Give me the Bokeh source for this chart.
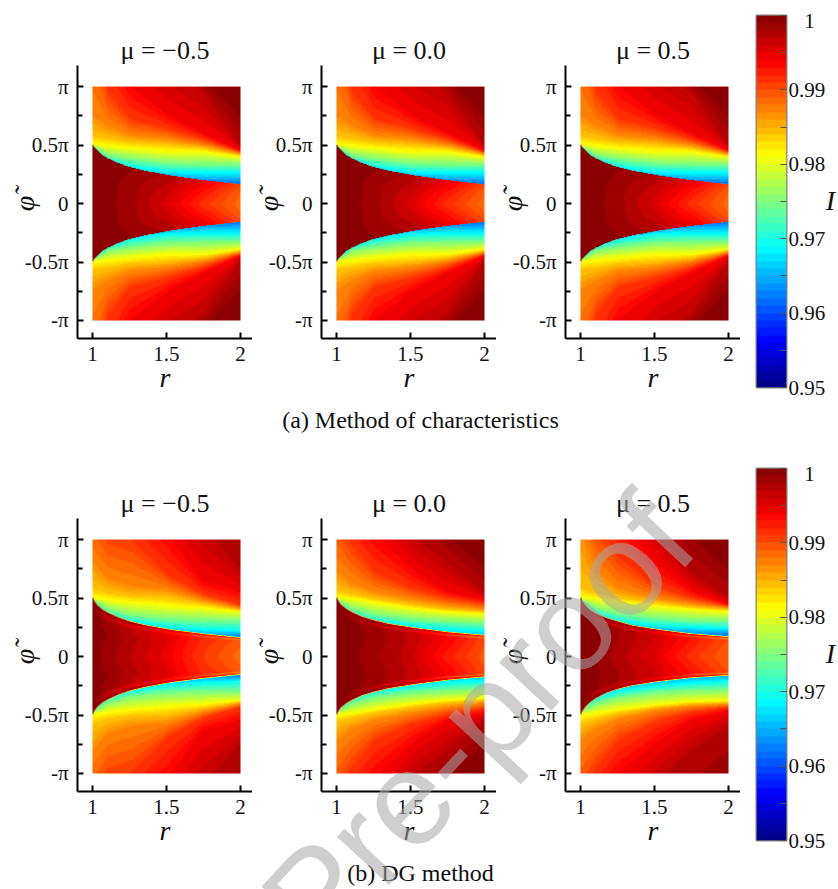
import numpy as np
from bokeh.embed import file_html
from bokeh.resources import INLINE
from bokeh.core.properties import value
from bokeh.layouts import column, row
from bokeh.models import (FixedTicker, LinearAxis,
                          LinearColorMapper, Range1d, Spacer, Title)
from bokeh.plotting import figure

# ---------- values (phi given in units of pi) ----------
TITLES = ["μ = −0.5", "μ = 0.0", "μ = 0.5"]
CAPTIONS = ["(a) Method of characteristics", "(b) DG method"]
X_TICKS = [1, 1.5, 2]
Y_TICK_LABELS = {-1: "-π", -0.5: "-0.5π", 0: "0", 0.5: "0.5π", 1: "π"}
Y_MINOR = [-0.75, -0.25, 0.25, 0.75]
CB_TICKS = [0.95, 0.96, 0.97, 0.98, 0.99, 1.0]
CB_MINOR = [0.955, 0.965, 0.975, 0.985, 0.995]
CB_LABELS = ["0.95", "0.96", "0.97", "0.98", "0.99", "\u00a0\u00a0\u00a01"]

FRONT_R = [1, 1.01, 1.03, 1.06, 1.1, 1.17, 1.25, 1.35, 1.5, 1.75, 2]
FRONT_MOC = [.5, .475, .45, .415, .385, .345, .31, .28, .245, .2, .165]
FRONT_DG_NEG = [.5, .47, .44, .405, .375, .335, .30, .27, .235, .195, .163]
FRONT_DG_ZERO = [.5, .47, .44, .41, .38, .34, .31, .28, .25, .21, .182]
FRONT_DG_POS_UP = [.5, .47, .44, .40, .37, .33, .30, .265, .235, .195, .17]
FRONT_DG_POS_LOW = [.5, .47, .44, .40, .365, .32, .285, .255, .225, .19, .17]

ISO_R = [1, 1.1, 1.25, 1.5, 1.75, 2]
LEVELS = [.9625, .969, .975, .981, .984, .987, .991, .994, .997, .9995]
ISO_MOC = [
    [.46, .33, .27, .21, .18, .175],
    [.47, .37, .31, .27, .265, .265],
    [.49, .41, .38, .345, .335, .335],
    [.50, .49, .47, .44, .44, .395],
    [.57, .55, .52, .50, .47, .41],
    [.74, .66, .58, .55, .50, .425],
    [1.6, .95, .72, .64, .55, .44],
    [2.0, 1.5, 1.0, .76, .60, .455],
    [2.6, 2.2, 1.6, 1.15, .95, .50],
    [3.2, 3.0, 2.6, 1.9, 1.1, .80],
]
ISO_DG_NEG = [
    [.46, .33, .27, .205, .175, .17],
    [.47, .36, .30, .25, .23, .22],
    [.485, .40, .35, .32, .31, .31],
    [.50, .48, .46, .43, .41, .38],
    [.58, .54, .51, .50, .447, .395],
    [.80, .66, .60, .57, .48, .41],
    [1.3, 1.05, 1.0, .70, .53, .44],
    [1.8, 1.5, 1.35, 1.05, .64, .55],
    [2.6, 2.3, 1.9, 1.5, 1.1, .75],
    [3.5, 3.5, 3.2, 2.6, 2.0, 1.3],
]
ISO_DG_ZERO = [
    [.40, .30, .25, .20, .16, .15],
    [.46, .36, .30, .26, .23, .215],
    [.48, .41, .36, .32, .30, .285],
    [.50, .49, .46, .41, .38, .36],
    [.56, .53, .49, .44, .40, .38],
    [.72, .62, .55, .49, .44, .405],
    [1.2, .95, .72, .58, .50, .45],
    [1.6, 1.3, 1.05, .75, .55, .49],
    [2.2, 1.9, 1.5, 1.05, .80, .55],
    [3.0, 3.0, 2.6, 1.6, 1.1, .80],
]
ISO_DG_POS_UP = [
    [.46, .33, .27, .215, .19, .185],
    [.47, .36, .30, .26, .25, .24],
    [.485, .41, .37, .33, .31, .305],
    [.50, .49, .46, .43, .40, .38],
    [.58, .54, .50, .46, .42, .40],
    [1.05, .72, .58, .50, .45, .415],
    [1.6, 1.15, .85, .60, .50, .43],
    [2.0, 1.5, 1.2, .80, .56, .445],
    [2.6, 2.1, 1.6, 1.15, .72, .50],
    [3.0, 3.0, 2.6, 1.7, 1.1, .80],
]
ISO_DG_POS_LOW = [
    [.40, .30, .24, .19, .16, .16],
    [.46, .36, .30, .26, .235, .22],
    [.48, .41, .36, .32, .30, .29],
    [.50, .49, .46, .42, .39, .38],
    [.58, .54, .49, .44, .41, .40],
    [.72, .62, .54, .47, .43, .415],
    [1.2, .95, .72, .56, .48, .44],
    [1.6, 1.3, 1.0, .75, .55, .47],
    [2.2, 1.9, 1.5, 1.1, .80, .60],
    [3.0, 3.0, 2.6, 2.1, 1.5, 1.1],
]

BELOW_S_MOC = [0, .5, 1]
BELOW_MOC = [
    [.9998, .9998, .9998],
    [.9993, .9995, .9997],
    [.9985, .9985, .9992],
    [.9955, .9965, .998],
    [.9915, .993, .995],
    [.9885, .989, .9905],
]
BELOW_S_DG = [0, .5, .8, .88, .94, 1]
BELOW_DG_NEG = [
    [.9995, .9995, .9995, .9995, .9995, .9995],
    [.9985, .999, .9985, .996, .999, .9995],
    [.997, .9975, .997, .995, .998, .999],
    [.9945, .995, .995, .993, .9955, .9975],
    [.991, .9915, .992, .990, .9925, .9945],
    [.9885, .989, .9895, .987, .990, .992],
]
BELOW_DG_ZERO = [
    [1.0, 1.0, 1.0, 1.0, 1.0, 1.0],
    [.9993, .9995, .9993, .998, .9995, 1.0],
    [.9983, .9987, .9985, .9965, .999, .9995],
    [.9963, .9968, .9968, .9945, .997, .9985],
    [.9925, .9935, .994, .991, .994, .996],
    [.9895, .99, .9905, .988, .991, .993],
]
BELOW_DG_POS = [
    [1.0, 1.0, 1.0, 1.0, 1.0, 1.0],
    [.999, .9993, .999, .997, .9993, 1.0],
    [.9975, .998, .998, .996, .9985, .9995],
    [.995, .9958, .996, .994, .9965, .998],
    [.9915, .9925, .993, .990, .9935, .9955],
    [.989, .9895, .99, .9875, .9905, .9925],
]

PANELS = [
    dict(fu=FRONT_MOC, fl=FRONT_MOC, iu=ISO_MOC, il=ISO_MOC, b=BELOW_MOC, s=BELOW_S_MOC, w=.0008),
    dict(fu=FRONT_MOC, fl=FRONT_MOC, iu=ISO_MOC, il=ISO_MOC, b=BELOW_MOC, s=BELOW_S_MOC, w=.0008),
    dict(fu=FRONT_MOC, fl=FRONT_MOC, iu=ISO_MOC, il=ISO_MOC, b=BELOW_MOC, s=BELOW_S_MOC, w=.0008),
    dict(fu=FRONT_DG_NEG, fl=FRONT_DG_NEG, iu=ISO_DG_NEG, il=ISO_DG_NEG, b=BELOW_DG_NEG, s=BELOW_S_DG, w=.012),
    dict(fu=FRONT_DG_ZERO, fl=FRONT_DG_ZERO, iu=ISO_DG_ZERO, il=ISO_DG_ZERO, b=BELOW_DG_ZERO, s=BELOW_S_DG, w=.012),
    dict(fu=FRONT_DG_POS_UP, fl=FRONT_DG_POS_LOW, iu=ISO_DG_POS_UP, il=ISO_DG_POS_LOW, b=BELOW_DG_POS, s=BELOW_S_DG, w=.012),
]

# ---------- jet palette with 50 bands, as in the colour bar ----------
def jet(n):
    t = (np.arange(n) + .5) / n
    r = np.interp(t, [0, .375, .625, .875, 1], [0, 0, 255, 255, 128])
    g = np.interp(t, [0, .125, .375, .625, .875, 1], [0, 0, 255, 255, 0, 0])
    b = np.interp(t, [0, .125, .375, .625, 1], [128, 255, 255, 0, 0])
    return ["#%02x%02x%02x" % (int(a), int(c), int(d)) for a, c, d in zip(r, g, b)]

PALETTE = jet(50)
mapper = LinearColorMapper(palette=PALETTE, low=.95, high=1.0)

NR, NP = 149, 235
FONT = "Liberation Serif"


def half(r, a, front, iso, below, s_cols, w):
    f = np.interp(r, FRONT_R, front)
    iso_col = [np.interp(r, ISO_R, line) for line in iso]
    below_col = [np.interp(r, ISO_R, [line[j] for line in below]) for j in range(len(s_cols))]
    above = np.interp(a, iso_col, LEVELS)
    under = np.interp(a / f, s_cols, below_col)
    k = np.clip((a - f) / w + .5, 0, 1)
    return under * (1 - k) + above * k


def field(pn):
    rs = np.linspace(1, 2, NR)
    ph = np.linspace(-1, 1, NP)
    out = np.zeros((NP, NR))
    for j, r in enumerate(rs):
        up = ph >= 0
        out[up, j] = half(r, ph[up], pn["fu"], pn["iu"], pn["b"], pn["s"], pn["w"])
        out[~up, j] = half(r, -ph[~up], pn["fl"], pn["il"], pn["b"], pn["s"], pn["w"])
    return out


def panel(title, pn):
    p = figure(width=244, height=397, output_backend="svg", toolbar_location=None,
               x_range=Range1d(.899, 2.081), y_range=Range1d(-1.154, 1.18),
               min_border_left=69, min_border_right=0, min_border_top=57, min_border_bottom=67,
               background_fill_color="white", outline_line_color=None, frame_align=False)
    p.grid.visible = False
    p.image(image=[field(pn)], x=1, y=-1, dw=1, dh=2, color_mapper=mapper)
    p.title = Title(text=title, align="center", text_font=FONT, text_font_size="26px",
                    text_font_style="normal", text_color="#111111", standoff=1)
    xa, ya = p.xaxis[0], p.yaxis[0]
    xa.ticker = FixedTicker(ticks=X_TICKS)
    xa.major_label_overrides = {1: "1", 1.5: "1.5", 2: "2"}
    ya.ticker = FixedTicker(ticks=list(Y_TICK_LABELS), minor_ticks=Y_MINOR)
    ya.major_label_overrides = {float(k): v for k, v in Y_TICK_LABELS.items()}
    for ax in (xa, ya):
        ax.axis_line_color = "black"
        ax.axis_line_width = 2
        ax.major_tick_line_color = "black"
        ax.major_tick_line_width = 2
        ax.minor_tick_line_color = "black"
        ax.minor_tick_line_width = 2
        ax.major_tick_in = 6
        ax.major_tick_out = 0
        ax.minor_tick_in = 5
        ax.minor_tick_out = 0
        ax.major_label_text_font = FONT
        ax.major_label_text_font_size = "21px"
        ax.major_label_text_color = "#111111"
        ax.axis_label_text_font = FONT
        ax.axis_label_text_font_style = "italic"
        ax.axis_label_text_font_size = "28px"
        ax.axis_label_text_color = "#111111"
    xa.minor_tick_in = 0
    xa.axis_label = "r"
    xa.axis_label_standoff = -2
    xa.major_label_standoff = 8
    ya.major_label_standoff = 9
    return p


def colorbar(top):
    p = figure(width=98, height=397, output_backend="svg", toolbar_location=None,
               x_range=Range1d(0, 1), y_range=Range1d(.95, 1.0), x_axis_type=None, y_axis_type=None,
               min_border_left=16, min_border_right=52, min_border_top=top, min_border_bottom=397 - top - 372,
               outline_line_color="#808080", outline_line_width=2, frame_align=False)
    p.grid.visible = False
    levels = np.array(CB_TICKS)
    bands = (np.arange(len(PALETTE)) + .5) / len(PALETTE) * (levels[-1] - levels[0]) + levels[0]
    p.image(image=[bands.reshape(-1, 1)], x=0, y=.95, dw=1, dh=.05, color_mapper=mapper)
    ax = LinearAxis(ticker=FixedTicker(ticks=CB_TICKS, minor_ticks=CB_MINOR),
                    major_label_overrides=dict(zip(CB_TICKS, CB_LABELS)))
    ax.axis_line_color = None
    ax.major_tick_in = 6
    ax.major_tick_out = 0
    ax.minor_tick_in = 6
    ax.minor_tick_out = 0
    ax.major_tick_line_color = "#555555"
    ax.minor_tick_line_color = "#555555"
    ax.major_label_text_font = FONT
    ax.major_label_text_font_size = "21px"
    ax.major_label_text_color = "#111111"
    ax.major_label_standoff = 2
    p.add_layout(ax, "right")
    return p


# ---------- page-wide overlay: side labels, captions and watermark ----------
overlay = figure(frame_width=830, frame_height=881, output_backend="svg", toolbar_location=None,
                 x_range=Range1d(8, 838), y_range=Range1d(889, 8), x_axis_type=None, y_axis_type=None,
                 min_border=0, outline_line_color=None, background_fill_alpha=0, border_fill_alpha=0,
                 frame_align=False, title=None,
                 styles={"position": "absolute", "left": "0px", "top": "0px", "z-index": "10",
                         "pointer-events": "none"})
overlay.grid.visible = False
overlay.text(x=[420, 420], y=[419, 872], text=CAPTIONS, text_font=value(FONT), text_font_size="24px",
             text_color="#111111", text_align="center", text_baseline="middle")
phi_x = [24, 268, 512, 24, 268, 512]
phi_y = [203, 203, 203, 656, 656, 656]
overlay.text(x=phi_x, y=phi_y, text=["φ̃"] * 6, angle=[np.pi / 2] * 6, text_font=value(FONT),
             text_font_style="italic", text_font_size="28px", text_color="#111111",
             text_align="center", text_baseline="middle")
overlay.text(x=[830, 830], y=[200, 653], text=["I", "I"], text_font=value(FONT),
             text_font_style="italic", text_font_size="28px", text_color="#111111",
             text_align="center", text_baseline="middle")
overlay.text(x=[287], y=[925], text=["Pre-proof"], text_font=value("Liberation Sans"),
             text_font_size="134px", text_color="#a8a8a8", text_alpha=.55, angle=[np.radians(47)],
             text_align="left", text_baseline="alphabetic")

row1 = row(*[panel(TITLES[i], PANELS[i]) for i in range(3)], colorbar(7), spacing=0)
row2 = row(*[panel(TITLES[i], PANELS[3 + i]) for i in range(3)], colorbar(7), spacing=0)
root = column(row1, Spacer(width=830, height=56), row2, Spacer(width=830, height=31), overlay,
              spacing=0, margin=(8, 0, 0, 8))

open("out.html", "w").write(file_html(root, INLINE))
